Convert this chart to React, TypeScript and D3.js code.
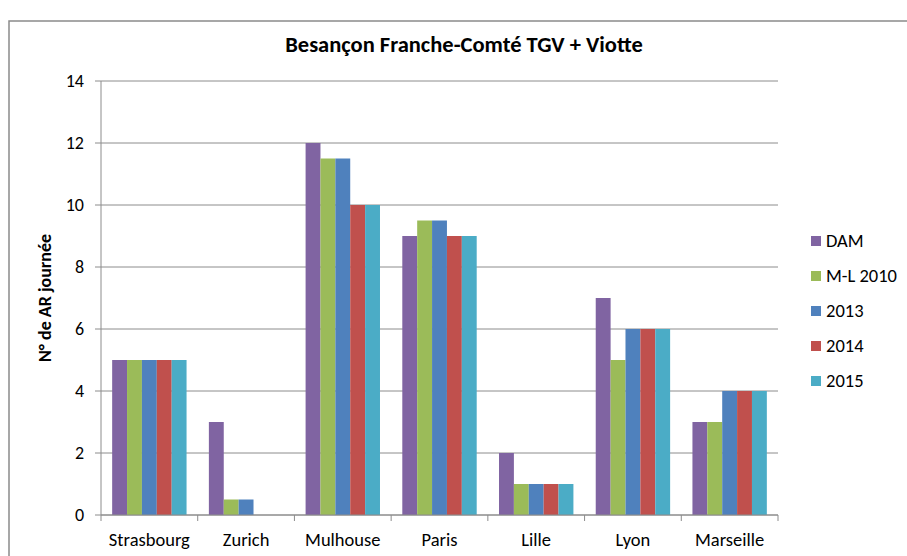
import * as d3 from "d3";

const categories = ["Strasbourg", "Zurich", "Mulhouse", "Paris", "Lille", "Lyon", "Marseille"];
const seriesNames = ["DAM", "M-L 2010", "2013", "2014", "2015"];
const dam = [5, 3, 12, 9, 2, 7, 3];
const ml2010 = [5, 0.5, 11.5, 9.5, 1, 5, 3];
const y2013 = [5, 0.5, 11.5, 9.5, 1, 6, 4];
const y2014 = [5, 0, 10, 9, 1, 6, 4];
const y2015 = [5, 0, 10, 9, 1, 6, 4];
const yTicks = [0, 2, 4, 6, 8, 10, 12, 14];
const colors = ["#8064A2", "#9BBB59", "#4F81BD", "#C0504D", "#4BACC6"];

const width = 907;
const height = 556;
const marginLeft = 101;
const marginRight = 129;
const marginTop = 81;
const marginBottom = 41;
const font = "Carlito, Calibri, Lato, sans-serif";

export default function App() {
    const values = [dam, ml2010, y2013, y2014, y2015];
    const x = d3.scaleBand(categories, [marginLeft, width - marginRight]);
    const y = d3.scaleLinear([0, 14], [height - marginBottom, marginTop]);
    // excel style: 5 bars + 150% gap width
    const barW = x.bandwidth() / 6.5;
    const gap = barW * 0.75;

    return (
        <svg width={width} height={height} style={{ position: "absolute", left: 0, top: 0, background: "#fff" }} fontFamily={font}>
            <rect x={9} y={21} width={width} height={height} fill="#fff" stroke="#8a8a8a" strokeWidth={1.5} />
            <text x={464} y={52} textAnchor="middle" fontSize={22.5} fontWeight="bold" fill="#000">
                Besançon Franche-Comté TGV + Viotte
            </text>
            {yTicks.map((t) => (
                <g key={t}>
                    <line x1={marginLeft - 6} x2={width - marginRight} y1={y(t)} y2={y(t)} stroke="#8c8c8c" strokeWidth={1} />
                    <text x={marginLeft - 17} y={y(t)} dy="0.35em" textAnchor="end" fontSize={18} fill="#000">{t}</text>
                </g>
            ))}
            <line x1={marginLeft} x2={marginLeft} y1={y(14)} y2={y(0)} stroke="#8c8c8c" />
            {categories.map((c, i) => (
                <g key={c}>
                    {values.map((v, s) => (
                        <rect key={s} x={x(c)! + gap + s * barW} width={barW} y={y(v[i])} height={y(0) - y(v[i])} fill={colors[s]} />
                    ))}
                </g>
            ))}
            <line x1={marginLeft} x2={width - marginRight} y1={y(0)} y2={y(0)} stroke="#8c8c8c" />
            {[...categories.map((c) => x(c)!), width - marginRight].map((px, i) => (
                <line key={i} x1={px} x2={px} y1={y(0)} y2={y(0) + 6} stroke="#8c8c8c" />
            ))}
            {categories.map((c) => (
                <text key={c} x={x(c)! + x.bandwidth() / 2} y={540} dy="0.35em" textAnchor="middle" fontSize={18.5} fill="#000">{c}</text>
            ))}
            <text transform={`translate(45,${(y(0) + y(14)) / 2}) rotate(-90)`} textAnchor="middle" dy="0.35em" fontSize={18} fontWeight="bold" fill="#000">
                N° de AR journée
            </text>
            {seriesNames.map((n, s) => (
                <g key={n} transform={`translate(811,${241 + s * 35})`}>
                    <rect x={0} y={-5} width={10} height={10} fill={colors[s]} />
                    <text x={15} y={0} dy="0.35em" fontSize={18.5} fill="#000">{n}</text>
                </g>
            ))}
        </svg>
    );
}
